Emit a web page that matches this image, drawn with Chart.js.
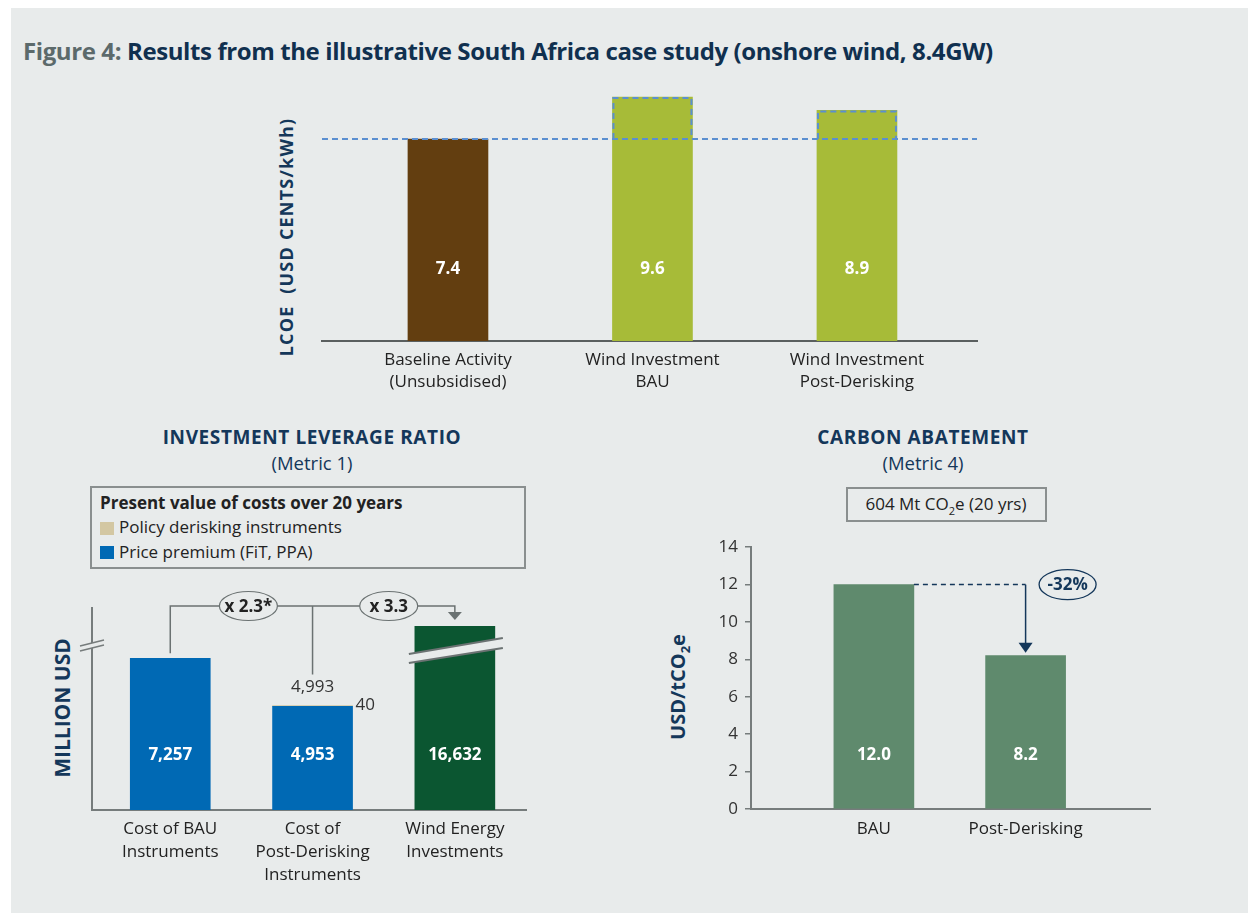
<!DOCTYPE html>
<html><head><meta charset="utf-8">
<script src="https://cdn.jsdelivr.net/npm/chart.js@4.4.1/dist/chart.umd.min.js"></script>
<style>
html,body{margin:0;padding:0;background:#fff;width:1248px;height:913px;overflow:hidden;font-family:"Open Sans",sans-serif;}
#bg{position:absolute;left:11px;top:8px;width:1237px;height:905px;background:#e8ebeb;}
.a{position:absolute;white-space:nowrap;}
.c{transform:translate(-50%,-50%);}
.r{transform:translate(-50%,-50%) rotate(-90deg);}
canvas{position:absolute;}
.navy{color:#14375a;}
</style></head>
<body>
<div id="bg"></div>
<div class="a" id="title" style="left:23px;top:34px;font-weight:700;font-size:24px;letter-spacing:-0.4px;color:#10304f;"><span style="color:#5c6a6b">Figure 4:</span> Results from the illustrative South Africa case study (onshore wind, 8.4GW)</div>

<div class="a r navy" style="left:286px;top:237px;font-weight:700;font-size:18px;letter-spacing:1.2px;">LCOE&nbsp;&nbsp;(USD CENTS/kWh)</div>

<div class="a c navy" style="left:312px;top:437px;font-weight:700;font-size:19px;letter-spacing:0.6px;">INVESTMENT LEVERAGE RATIO</div>
<div class="a c navy" style="left:312px;top:462px;font-size:18.5px;">(Metric 1)</div>
<div class="a" style="left:90px;top:486px;width:432px;height:79px;border:2px solid #8a8f8f;"></div>
<div class="a" style="left:100px;top:491px;font-weight:700;font-size:17px;color:#222;">Present value of costs over 20 years</div>
<div class="a" style="left:100px;top:522px;width:14px;height:13px;background:#d3c7a2;"></div>
<div class="a" style="left:119px;top:515px;font-size:17px;color:#222;">Policy derisking instruments</div>
<div class="a" style="left:100px;top:546px;width:14px;height:13px;background:#0069b4;"></div>
<div class="a" style="left:119px;top:540px;font-size:17px;color:#222;">Price premium (FiT, PPA)</div>
<div class="a r navy" style="left:62px;top:708px;font-weight:700;font-size:21px;">MILLION USD</div>

<div class="a c navy" style="left:923px;top:437px;font-weight:700;font-size:19px;letter-spacing:0.6px;">CARBON ABATEMENT</div>
<div class="a c navy" style="left:923px;top:462px;font-size:18.5px;">(Metric 4)</div>
<div class="a" style="left:846px;top:487px;width:197px;height:31px;border:2px solid #8a8f8f;"></div>
<div class="a c" style="left:946px;top:505px;font-size:17px;color:#222;">604 Mt CO<sub style="font-size:11px;">2</sub>e (20 yrs)</div>
<div class="a r navy" style="left:679px;top:687px;font-weight:700;font-size:20px;">USD/tCO<sub style="font-size:13px;">2</sub>e</div>

<canvas id="c1" width="700" height="330" style="left:300px;top:80px;"></canvas>
<canvas id="c2" width="520" height="310" style="left:40px;top:590px;"></canvas>
<canvas id="c3" width="560" height="320" style="left:680px;top:530px;"></canvas>

<script>
// ---------- DATA ----------
const lcoeLabels = [["Baseline Activity","(Unsubsidised)"],["Wind Investment","BAU"],["Wind Investment","Post-Derisking"]];
const lcoeValues = [7.4, 9.6, 8.9];
const lcoeBaseline = 7.4;

const levLabels = [["Cost of BAU","Instruments"],["Cost of","Post-Derisking","Instruments"],["Wind Energy","Investments"]];
const pricePremium = [7257, 4953, null];
const policyDerisking = [null, 40, null];
const windInvestment = [null, null, 16632];
const levRatios = ["2.3*", "3.3"];

const carbonLabels = ["BAU","Post-Derisking"];
const carbonValues = [12.0, 8.2];
const carbonChange = "-32%";
const carbonTicks = [0, 2, 4, 6, 8, 10, 12, 14];

// ---------- STYLE ----------
const BG = '#e8ebeb';
const FONT = '"Open Sans", sans-serif';
Chart.defaults.font.family = FONT;
Chart.defaults.animation = false;
const fmt = v => v.toLocaleString('en-US');
const xy = arr => arr.map((v,i)=>({x:i+1, y:v}));
const common = {responsive:false, animation:false, plugins:{legend:{display:false}, tooltip:{enabled:false}}};

// ---------- CHART 1 : LCOE ----------
const L1min = -3.18, L1max = 9.97;
const lcoePlugin = {
  id:'lcoe',
  afterDatasetsDraw(chart){
    const {ctx, chartArea:a, scales:{y}} = chart;
    const meta = chart.getDatasetMeta(0);
    const yb = y.getPixelForValue(lcoeBaseline);
    ctx.save();
    ctx.strokeStyle = '#5b8fd0'; ctx.lineWidth = 2; ctx.setLineDash([6,4]);
    ctx.beginPath(); ctx.moveTo(a.left, yb); ctx.lineTo(a.right, yb); ctx.stroke();
    meta.data.forEach((b,i)=>{
      if (lcoeValues[i] > lcoeBaseline){
        const l = b.x - b.width/2 + 1, r = b.x + b.width/2 - 1;
        ctx.beginPath(); ctx.moveTo(l, yb); ctx.lineTo(l, b.y+1); ctx.lineTo(r, b.y+1); ctx.lineTo(r, yb); ctx.stroke();
      }
    });
    ctx.setLineDash([]);
    ctx.fillStyle = '#fff'; ctx.font = `700 17px ${FONT}`; ctx.textAlign='center'; ctx.textBaseline='middle';
    meta.data.forEach((b,i)=> ctx.fillText(lcoeValues[i].toFixed(1), b.x, a.bottom - 72));
    ctx.restore();
  }
};
new Chart(document.getElementById('c1'), {
  type:'bar',
  data:{datasets:[{data:xy(lcoeValues), base:L1min, barThickness:80,
    backgroundColor:['#633e10','#a7bb38','#a7bb38']}]},
  options:{...common,
    layout:{padding:{left:22,right:23,top:10,bottom:0}},
    scales:{
      x:{type:'linear', min:0.384, max:3.587, offset:false,
        grid:{display:false, drawTicks:false}, border:{display:true, color:'#5a5f5f', width:2},
        afterBuildTicks:s=>{ s.ticks = lcoeLabels.map((_,i)=>({value:i+1})); },
        ticks:{callback:v=>lcoeLabels[v-1], font:{size:17, lineHeight:1.3}, color:'#222', padding:8, maxRotation:0, autoSkip:false},
        afterFit:s=>{ s.height = 69; }},
      y:{display:false, min:L1min, max:L1max}
    }},
  plugins:[lcoePlugin]
});

// ---------- CHART 2 : INVESTMENT LEVERAGE ----------
const levPlugin = {
  id:'lev',
  afterDatasetsDraw(chart){
    const {ctx, chartArea:a} = chart;
    const m0 = chart.getDatasetMeta(0), m1 = chart.getDatasetMeta(1), m2 = chart.getDatasetMeta(2);
    const bau = m0.data[0], post = m1.data[1], postP = m0.data[1], wind = m2.data[2];
    ctx.save();
    ctx.strokeStyle = '#767c7c'; ctx.lineWidth = 2;
    ctx.beginPath(); ctx.moveTo(a.left, a.bottom); ctx.lineTo(a.left, a.top - 19); ctx.stroke();
    const L = a.left, T = a.top;
    ctx.fillStyle = BG;
    ctx.beginPath(); ctx.moveTo(L-12,T+20); ctx.lineTo(L+12,T+14); ctx.lineTo(L+12,T+19); ctx.lineTo(L-12,T+25); ctx.closePath(); ctx.fill();
    ctx.lineWidth = 1.5;
    ctx.beginPath(); ctx.moveTo(L-12,T+20); ctx.lineTo(L+12,T+14); ctx.moveTo(L-12,T+25); ctx.lineTo(L+12,T+19); ctx.stroke();
    const wx = wind.x;
    ctx.fillStyle = BG;
    ctx.beginPath(); ctx.moveTo(wx-46,T+28); ctx.lineTo(wx+48,T+12); ctx.lineTo(wx+48,T+22); ctx.lineTo(wx-46,T+37); ctx.closePath(); ctx.fill();
    ctx.strokeStyle = '#6b7272'; ctx.lineWidth = 2;
    ctx.beginPath(); ctx.moveTo(wx-46,T+28); ctx.lineTo(wx+48,T+12); ctx.moveTo(wx-46,T+37); ctx.lineTo(wx+48,T+22); ctx.stroke();
    const yb = T - 20;
    ctx.strokeStyle = '#6b7272'; ctx.lineWidth = 1.5;
    ctx.beginPath();
    ctx.moveTo(bau.x, bau.y - 5); ctx.lineTo(bau.x, yb); ctx.lineTo(wx, yb); ctx.lineTo(wx, yb+6);
    ctx.moveTo(post.x, yb); ctx.lineTo(post.x, post.y - 31);
    ctx.stroke();
    ctx.fillStyle = '#6b7272';
    ctx.beginPath(); ctx.moveTo(wx-7, yb+6); ctx.lineTo(wx+7, yb+6); ctx.lineTo(wx, yb+14); ctx.closePath(); ctx.fill();
    const ell = (cx, txt) => {
      ctx.fillStyle = BG; ctx.strokeStyle = '#6b7272'; ctx.lineWidth = 1.2;
      ctx.beginPath(); ctx.ellipse(cx, yb, 29, 14.5, 0, 0, Math.PI*2); ctx.fill(); ctx.stroke();
      ctx.fillStyle = '#222'; ctx.font = `700 17px ${FONT}`; ctx.textAlign='center'; ctx.textBaseline='middle';
      ctx.fillText('x ' + txt, cx, yb+1);
    };
    ell((bau.x + post.x)/2 + 7, levRatios[0]);
    ell((post.x + wx)/2 + 5, levRatios[1]);
    ctx.fillStyle = '#333'; ctx.font = `400 17px ${FONT}`; ctx.textAlign='center'; ctx.textBaseline='middle';
    ctx.fillText(fmt(pricePremium[1] + policyDerisking[1]), post.x, post.y - 18);
    ctx.textAlign='left';
    ctx.fillText(fmt(policyDerisking[1]), postP.x + postP.width/2 + 3, post.y);
    ctx.fillStyle = '#fff'; ctx.font = `700 17px ${FONT}`; ctx.textAlign='center';
    ctx.fillText(fmt(pricePremium[0]), bau.x, a.bottom - 55);
    ctx.fillText(fmt(pricePremium[1]), postP.x, a.bottom - 55);
    ctx.fillText(fmt(windInvestment[2]), wx, a.bottom - 55);
    ctx.restore();
  }
};
new Chart(document.getElementById('c2'), {
  type:'bar',
  data:{datasets:[
    {label:'Price premium (FiT, PPA)', data:xy(pricePremium), backgroundColor:'#0069b4', barThickness:80},
    {label:'Policy derisking instruments', data:xy(policyDerisking), backgroundColor:'#d3c7a2', barThickness:80},
    {label:'Wind energy investments', data:xy(windInvestment), backgroundColor:'#0b5631', barThickness:80}
  ]},
  options:{...common,
    layout:{padding:{left:52,right:34,top:36,bottom:0}},
    scales:{
      x:{type:'linear', stacked:true, min:0.45, max:3.5, offset:false,
        grid:{display:false, drawTicks:false}, border:{display:true, color:'#767c7c', width:2},
        afterBuildTicks:s=>{ s.ticks = levLabels.map((_,i)=>({value:i+1})); },
        ticks:{callback:v=>levLabels[v-1], font:{size:17, lineHeight:1.35}, color:'#222', padding:8, maxRotation:0, autoSkip:false},
        afterFit:s=>{ s.height = 90; }},
      y:{display:false, stacked:true, min:0, max:8800}
    }},
  plugins:[levPlugin]
});

// ---------- CHART 3 : CARBON ABATEMENT ----------
const carbPlugin = {
  id:'carb',
  afterDatasetsDraw(chart){
    const {ctx, chartArea:a} = chart;
    const meta = chart.getDatasetMeta(0);
    const b0 = meta.data[0], b1 = meta.data[1];
    ctx.save();
    const NAVY = '#14375a';
    ctx.strokeStyle = NAVY; ctx.lineWidth = 1.5; ctx.setLineDash([5,4]);
    ctx.beginPath(); ctx.moveTo(b0.x + b0.width/2, b0.y); ctx.lineTo(b1.x, b0.y); ctx.stroke();
    ctx.setLineDash([]);
    ctx.beginPath(); ctx.moveTo(b1.x, b0.y); ctx.lineTo(b1.x, b1.y - 12); ctx.stroke();
    ctx.fillStyle = NAVY;
    ctx.beginPath(); ctx.moveTo(b1.x-7, b1.y-13); ctx.lineTo(b1.x+7, b1.y-13); ctx.lineTo(b1.x, b1.y-3); ctx.closePath(); ctx.fill();
    const ex = b1.x + 42;
    ctx.fillStyle = BG; ctx.lineWidth = 1.3;
    ctx.beginPath(); ctx.ellipse(ex, b0.y, 28.5, 15, 0, 0, Math.PI*2); ctx.fill(); ctx.stroke();
    ctx.fillStyle = NAVY; ctx.font = `700 17px ${FONT}`; ctx.textAlign='center'; ctx.textBaseline='middle';
    ctx.fillText(carbonChange, ex, b0.y + 1);
    ctx.fillStyle = '#fff'; ctx.font = `700 17px ${FONT}`;
    meta.data.forEach((b,i)=> ctx.fillText(carbonValues[i].toFixed(1), b.x, a.bottom - 54));
    ctx.restore();
  }
};
new Chart(document.getElementById('c3'), {
  type:'bar',
  data:{datasets:[{data:xy(carbonValues), backgroundColor:'#5f8a6d', barThickness:80}]},
  options:{...common,
    layout:{padding:{left:0,right:90,top:17,bottom:0}},
    scales:{
      x:{type:'linear', min:0.19, max:2.82, offset:false,
        grid:{display:false, drawTicks:false}, border:{display:true, color:'#767c7c', width:2},
        afterBuildTicks:s=>{ s.ticks = carbonLabels.map((_,i)=>({value:i+1})); },
        ticks:{callback:v=>carbonLabels[v-1], font:{size:17}, color:'#222', padding:10, maxRotation:0, autoSkip:false},
        afterFit:s=>{ s.height = 41; }},
      y:{min:0, max:14,
        afterBuildTicks:s=>{ s.ticks = carbonTicks.map(v=>({value:v})); },
        grid:{drawOnChartArea:false, drawTicks:true, tickLength:6, color:'#767c7c', lineWidth:1.5},
        border:{display:true, color:'#767c7c', width:2},
        ticks:{font:{size:17}, color:'#333', padding:7},
        afterFit:s=>{ s.width = 71; }}
    }},
  plugins:[carbPlugin]
});
</script>
</body></html>
